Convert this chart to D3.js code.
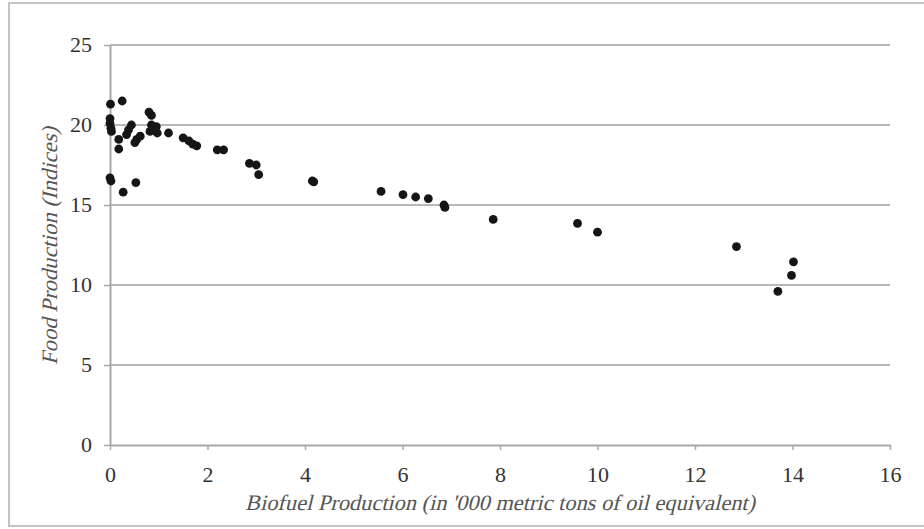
<!DOCTYPE html>
<html>
<head>
<meta charset="utf-8">
<script src="https://cdn.jsdelivr.net/npm/d3@7"></script>
<style>
  body { margin: 0; background: #fff; }
  svg { display: block; }
</style>
</head>
<body>
<svg id="chart" width="924" height="529"></svg>
<script>
// biofuel production ('000 metric tons of oil equivalent)
const biofuel = [
  0.01, 0.25, 0.0, 0.0, 0.02, 0.03, 0.18, 0.18, 0.0, 0.02,
  0.27, 0.53, 0.44, 0.38, 0.34, 0.55, 0.51, 0.62, 0.80, 0.85,
  0.85, 0.82, 0.95, 0.97, 1.2, 1.5, 1.62, 1.7, 1.78, 2.2,
  2.33, 2.86, 3.0, 3.05, 4.15, 4.18, 5.56, 6.01, 6.27, 6.53,
  6.85, 6.87, 7.86, 9.59, 10.0, 12.85, 14.02, 13.98, 13.70
];
// food production (indices)
const food = [
  21.3, 21.5, 20.4, 20.1, 19.8, 19.6, 19.1, 18.5, 16.7, 16.5,
  15.8, 16.4, 20.0, 19.7, 19.4, 19.1, 18.9, 19.3, 20.8, 20.6,
  20.0, 19.6, 19.9, 19.5, 19.5, 19.2, 19.0, 18.8, 18.7, 18.45,
  18.45, 17.6, 17.5, 16.9, 16.5, 16.45, 15.85, 15.65, 15.5, 15.4,
  15.0, 14.85, 14.1, 13.85, 13.3, 12.4, 11.45, 10.6, 9.6
];
const xTicks = [0, 2, 4, 6, 8, 10, 12, 14, 16];
const yTicks = [0, 5, 10, 15, 20, 25];

const svg = d3.select("#chart");
const font = "Liberation Serif";

// outer frame
svg.append("rect")
  .attr("x", 9).attr("y", 3)
  .attr("width", 930).attr("height", 523)
  .attr("fill", "none")
  .attr("stroke", "#c4c4c4")
  .attr("stroke-width", 2);

const x = d3.scaleLinear().domain([0, 16]).range([110, 890]);
const y = d3.scaleLinear().domain([0, 25]).range([445, 45]);

// gridlines
svg.append("g")
  .selectAll("line")
  .data(yTicks.filter(d => d > 0))
  .join("line")
  .attr("x1", x(0)).attr("x2", x(16))
  .attr("y1", d => y(d)).attr("y2", d => y(d))
  .attr("stroke", "#b8b8b8")
  .attr("stroke-width", 2);

// x axis
const xAxis = svg.append("g")
  .attr("transform", `translate(0,${y(0)})`)
  .call(d3.axisBottom(x).tickValues(xTicks).tickSize(5).tickSizeOuter(0).tickPadding(16));

// y axis
const yAxis = svg.append("g")
  .attr("transform", `translate(${x(0)},0)`)
  .call(d3.axisLeft(y).tickValues(yTicks).tickSize(6).tickSizeOuter(0).tickPadding(12));

yAxis.selectAll(".tick text").attr("dy", "0.28em");

[xAxis, yAxis].forEach(g => {
  g.attr("font-family", font).attr("font-size", 22);
  g.select(".domain").attr("stroke", "#a8a8a8").attr("stroke-width", 2);
  g.selectAll(".tick line").attr("stroke", "#a8a8a8").attr("stroke-width", 1.5);
  g.selectAll(".tick text").attr("fill", "#333").attr("font-family", font);
});

// points
svg.append("g")
  .selectAll("circle")
  .data(biofuel.map((b, i) => [b, food[i]]))
  .join("circle")
  .attr("cx", d => x(d[0]))
  .attr("cy", d => y(d[1]))
  .attr("r", 4.4)
  .attr("fill", "#151515");

// axis titles (slanted regular face, the italic face is not available)
svg.append("text")
  .attr("transform", "translate(500,510) skewX(-14)")
  .attr("text-anchor", "middle")
  .attr("fill", "#555")
  .attr("font-family", font)
  .attr("font-size", 22)
  .attr("textLength", 510)
  .attr("lengthAdjust", "spacingAndGlyphs")
  .text("Biofuel Production (in '000 metric tons of oil equivalent)");

svg.append("text")
  .attr("transform", "translate(57,246) rotate(-90) skewX(-14)")
  .attr("text-anchor", "middle")
  .attr("fill", "#555")
  .attr("font-family", font)
  .attr("font-size", 22)
  .attr("textLength", 238)
  .attr("lengthAdjust", "spacingAndGlyphs")
  .text("Food Production (Indices)");
</script>
</body>
</html>
